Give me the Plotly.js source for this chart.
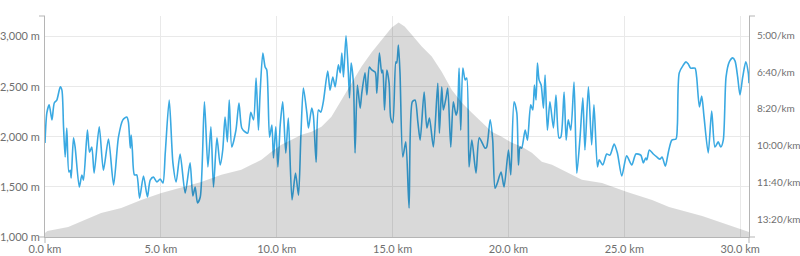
<!DOCTYPE html>
<html>
<head>
<meta charset="utf-8">
<script src="https://cdn.plot.ly/plotly-3.0.1.min.js"></script>
<style>html,body{margin:0;padding:0;background:#fff;}#chart{width:800px;height:256px;}</style>
</head>
<body>
<div id="chart"></div>
<script>
// Elevation profile (km, metres)
var elevKm = [0, 0.1, 1.0, 2.42, 3.29, 4.15, 5.02, 6.74, 7.61, 8.47, 8.9, 9.34, 9.77, 10.2, 10.64, 11.07, 11.5, 11.93, 12.36, 12.8, 13.23, 13.66, 14.09, 14.53, 14.96, 15.26, 15.52, 15.82, 16.26, 16.69, 17.12, 17.55, 17.99, 18.42, 18.85, 19.28, 19.71, 20.15, 20.58, 21.01, 21.44, 21.88, 22.31, 22.74, 23.17, 24.04, 25.12, 26.2, 26.93, 28.36, 29.79, 30.38];
var elevM = [1040, 1060, 1100, 1240, 1290, 1370, 1440, 1550, 1620, 1670, 1720, 1770, 1850, 1920, 1970, 2020, 2050, 2100, 2200, 2370, 2540, 2700, 2840, 2970, 3090, 3140, 3100, 3020, 2900, 2800, 2650, 2470, 2340, 2240, 2140, 2050, 2000, 1940, 1900, 1840, 1750, 1720, 1670, 1620, 1570, 1540, 1450, 1370, 1300, 1210, 1100, 1050];

// Pace (km, seconds per km)
var paceKm = [0.0, 0.08, 0.18, 0.30, 0.40, 0.51, 0.66, 0.73, 0.80, 0.87, 0.94, 1.03, 1.09, 1.13, 1.23, 1.30, 1.48, 1.59, 1.66, 1.83, 1.92, 2.02, 2.12, 2.34, 2.52, 2.74, 2.96, 3.17, 3.36, 3.53, 3.60, 3.68, 3.72, 3.77, 3.86, 3.96, 4.08, 4.25, 4.42, 4.54,
  4.68, 4.83, 4.97, 5.09, 5.19, 5.36, 5.52, 5.66, 5.83, 6.05, 6.26, 6.38, 6.48, 6.58, 6.70, 6.88, 7.03, 7.16, 7.27, 7.42, 7.56, 7.67, 7.77, 7.87, 7.95, 8.06, 8.24, 8.37, 8.49, 8.64, 8.75, 8.88, 9.00, 9.11, 9.21,
  9.28, 9.40, 9.50, 9.57, 9.69, 9.79, 9.86, 9.96, 10.05, 10.15, 10.26, 10.39, 10.50, 10.66, 10.81, 10.94, 11.04, 11.15, 11.30, 11.37, 11.51, 11.58, 11.70, 11.80, 11.90, 12.01, 12.20, 12.30, 12.42, 12.52, 12.66, 12.74, 12.81, 12.88, 12.99, 13.09, 13.14, 13.21, 13.31, 13.38, 13.48, 13.60, 13.67, 13.81, 13.89, 14.00,
  14.10, 14.25, 14.32, 14.43, 14.53, 14.58, 14.65, 14.75, 14.85, 14.92, 15.01, 15.14, 15.18, 15.25, 15.32, 15.44, 15.57, 15.71, 15.85, 15.97, 16.09, 16.19, 16.36, 16.48, 16.59, 16.76, 16.95, 17.02, 17.12, 17.19, 17.31, 17.38, 17.51, 17.62, 17.74, 17.80, 17.87, 17.94, 18.03, 18.13, 18.20, 18.30, 18.42, 18.60, 18.74,
  18.99, 19.06, 19.21, 19.32, 19.42, 19.52, 19.68, 19.81, 20.00, 20.10, 20.24, 20.36, 20.43, 20.50, 20.57, 20.72, 20.82, 20.96, 21.05, 21.12, 21.19, 21.25, 21.32, 21.41, 21.51, 21.58, 21.68, 21.79, 21.94, 22.05, 22.18, 22.26, 22.40, 22.49, 22.58, 22.69, 22.83, 22.95, 23.09, 23.21, 23.30, 23.45, 23.59, 23.69, 23.84, 23.92,
  24.07, 24.24, 24.38, 24.56, 24.70, 24.89, 25.10, 25.32, 25.50, 25.71, 25.82, 25.92, 25.97, 26.08, 26.25, 26.40, 26.54, 26.63, 26.77, 26.90, 27.05, 27.23, 27.29, 27.37, 27.55, 27.66, 27.76, 27.86, 28.05, 28.12, 28.24, 28.34, 28.44, 28.62, 28.77, 28.91, 29.05, 29.16, 29.27, 29.39, 29.53, 29.68, 29.78, 29.89, 29.99, 30.11, 30.24, 30.35, 30.38];
var paceSec = [593, 511, 489, 530, 484, 476, 440, 449, 549, 631, 552, 672, 667, 688, 579, 604, 713, 680, 694, 558, 618, 604, 675, 549, 667, 582, 707, 577, 530, 522, 536, 607, 571, 612, 680, 680, 743, 683, 740, 694,
  686, 699, 691, 702, 620, 476, 647, 699, 623, 729, 647, 737, 713, 756, 740, 481, 658, 549, 713, 579, 653, 612, 522, 590, 476, 604, 558, 484, 552, 563, 566, 509, 530, 416, 558,
  460, 348, 386, 394, 577, 544, 634, 549, 658, 544, 481, 620, 525, 748, 675, 735, 577, 443, 511, 552, 498, 517, 645, 503, 509, 481, 397, 449, 413, 440, 380, 402, 348, 413, 301, 402, 470, 375, 430, 620, 435, 498, 457, 402, 462, 386,
  394, 400, 457, 348, 402, 394, 503, 394, 430, 525, 538, 372, 375, 326, 402, 631, 590, 770, 481, 476, 536, 585, 454, 552, 525, 604, 430, 566, 440, 503, 468, 443, 604, 481, 517, 503, 389, 558, 389, 421, 416, 658, 585, 675, 579,
  607, 604, 530, 585, 716, 702, 672, 713, 612, 680, 481, 511, 653, 604, 607, 558, 585, 489, 503, 435, 476, 375, 421, 435, 498, 408, 558, 481, 552, 462, 579, 577, 454, 585, 530, 558, 427, 675, 577, 470, 612, 440, 598, 489, 658, 639,
  653, 623, 626, 596, 620, 683, 628, 653, 623, 626, 647, 634, 639, 612, 623, 631, 637, 631, 656, 618, 585, 582, 544, 402, 380, 372, 378, 389, 389, 413, 495, 465, 522, 620, 506, 604, 590, 604, 585, 413, 372, 361, 370, 413, 462, 413, 372, 402, 430];

var xTicks = [0, 5, 10, 15, 20, 25, 30];
var elevTicks = [1000, 1500, 2000, 2500, 3000];
var paceTicks = [300, 400, 500, 600, 700, 800];
var paceLabels = ["5:00/km", "6:40/km", "8:20/km", "10:00/km", "11:40/km", "13:20/km"];

var axisCol = '#b5b5b5';
var textCol = '#6f6f6f';
var gridCol = '#e9e9e9';

var traces = [
  {
    x: paceKm, y: paceSec, xaxis: 'x', yaxis: 'y',
    type: 'scatter', mode: 'lines',
    line: {color: '#3aa9e2', width: 1.6, shape: 'spline', smoothing: 0.7},
    hoverinfo: 'skip'
  },
  {
    x: elevKm, y: elevM, xaxis: 'x', yaxis: 'y2',
    type: 'scatter', mode: 'lines', fill: 'tozeroy',
    fillcolor: 'rgba(0,0,0,0.15)',
    line: {width: 0, color: 'rgba(0,0,0,0)'},
    hoverinfo: 'skip'
  }
];

function cap(xref, yref, x0, x1, y0, y1, opts) {
  return Object.assign({type: 'line', xref: xref, yref: yref, x0: x0, x1: x1, y0: y0, y1: y1,
    line: {color: axisCol, width: 1}, layer: 'above'}, opts || {});
}

var layout = {
  width: 800, height: 256,
  margin: {l: 45, r: 51, t: 16, b: 19, pad: 0},
  paper_bgcolor: '#fff', plot_bgcolor: '#fff',
  showlegend: false,
  font: {family: 'Lato, sans-serif', size: 11, color: textCol},
  xaxis: {
    range: [0, 30.38], tickvals: xTicks, ticktext: xTicks.map(function(v){return v.toFixed(1) + ' km';}),
    showgrid: true, gridcolor: gridCol, gridwidth: 1,
    showline: true, linecolor: axisCol, linewidth: 1,
    ticks: '', zeroline: false, fixedrange: true, ticklabelstandoff: 2
  },
  yaxis: {
    range: [849, 247], side: 'right',
    tickvals: paceTicks, ticktext: paceLabels,
    tickfont: {family: 'Lato, sans-serif', size: 10, color: textCol},
    showgrid: false, showline: true, linecolor: axisCol, linewidth: 1,
    ticks: '', zeroline: false, ticklabelstandoff: 5
  },
  yaxis2: {
    range: [1000, 3205], overlaying: 'y', side: 'left',
    tickvals: elevTicks, ticktext: elevTicks.map(function(v){return v.toLocaleString('en-US') + ' m';}),
    showgrid: true, gridcolor: gridCol, gridwidth: 1,
    showline: true, linecolor: axisCol, linewidth: 1,
    ticks: 'outside', ticklen: 0, tickcolor: axisCol, zeroline: false, ticklabelstandoff: 2
  },
  shapes: [
    cap('paper', 'paper', -6, 0, 1, 1, {xsizemode: 'pixel', xanchor: 0}),
    cap('paper', 'paper', -6, 0, 0, 0, {xsizemode: 'pixel', xanchor: 0}),
    cap('paper', 'paper', 0, 6, 1, 1, {xsizemode: 'pixel', xanchor: 1}),
    cap('paper', 'paper', 0, 6, 0, 0, {xsizemode: 'pixel', xanchor: 1}),
    cap('paper', 'paper', 0, 0, -6, 0, {ysizemode: 'pixel', yanchor: 0}),
    cap('paper', 'paper', 1, 1, -6, 0, {ysizemode: 'pixel', yanchor: 0})
  ]
};

Plotly.newPlot('chart', traces, layout, {staticPlot: true, displayModeBar: false});
</script>
</body>
</html>
